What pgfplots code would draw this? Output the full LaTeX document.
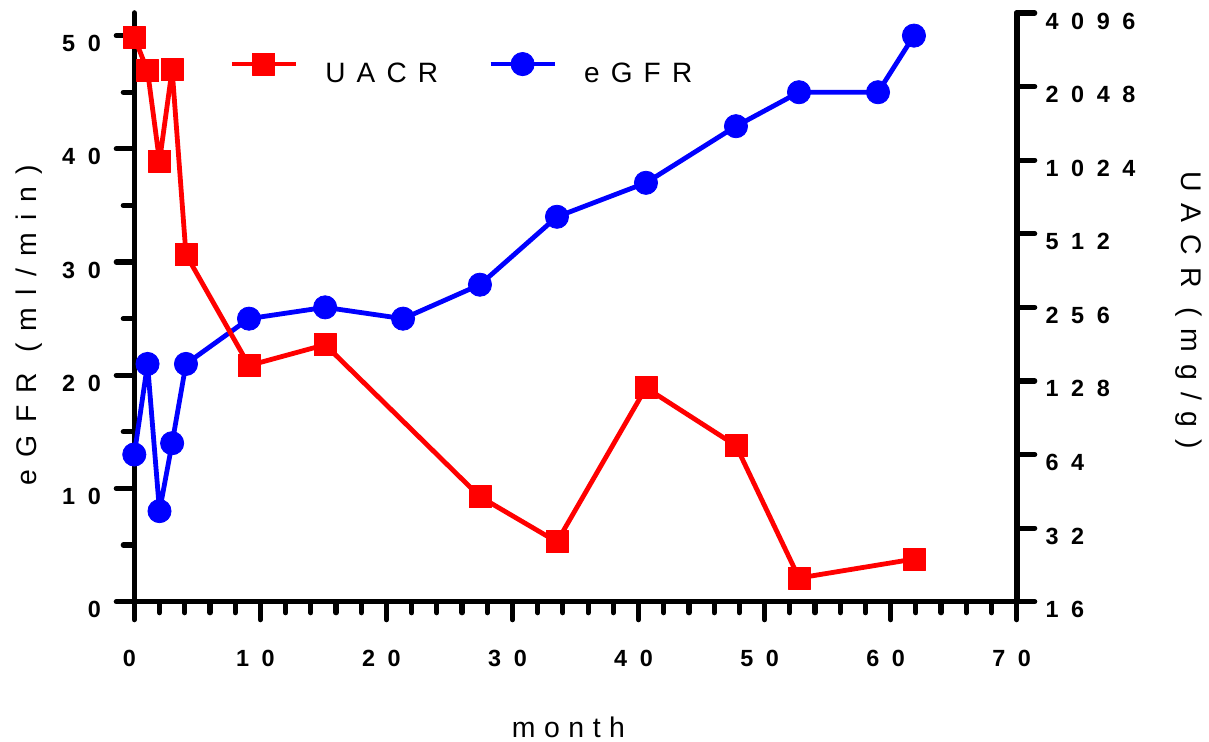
\documentclass[border=0pt]{standalone}
\usepackage{fontspec}
\setmainfont{Liberation Sans}
\newfontfamily\tickfont[LetterSpace=54]{Liberation Sans}
\newfontfamily\labfont[LetterSpace=43]{Liberation Sans}
\newfontfamily\rlabfont[LetterSpace=42]{Liberation Sans}
\newfontfamily\xlabfont[LetterSpace=30]{Liberation Sans}
\newfontfamily\legfont[LetterSpace=40]{Liberation Sans}
\usepackage{pgfplots}
\pgfplotsset{compat=1.18}
\definecolor{ured}{RGB}{255,0,0}
\definecolor{eblue}{RGB}{0,0,255}
\begin{document}
\begin{tikzpicture}
\pgfplotsset{
  common/.style={
    scale only axis, width=441.2pt, height=294.35pt,
    xmin=0, xmax=70,
    clip=false,
    tick align=outside,
    /pgf/number format/assume math mode=true,
    tick label style={font=\tickfont\bfseries\fontsize{11.7}{14}\selectfont, inner sep=0pt},
    axis line style={line width=2.8pt, line cap=round},
    major tick length=9pt, minor tick length=5.5pt,
    tick style={black, line width=2.6pt, line cap=round},
  }
}
\begin{axis}[common,
  axis x line*=bottom, axis y line*=left,
  ymin=0, ymax=52,
  xtick={0,10,...,70}, minor x tick num=4,
  ytick={0,10,...,50}, minor y tick num=1,
  xticklabel style={anchor=north, yshift=-15pt, xshift=-2.5pt},
  yticklabel style={anchor=east, xshift=-7.5pt, yshift=-4pt},
  xlabel={month}, ylabel={eGFR (ml/min)},
  xlabel style={font=\xlabfont\fontsize{14.2}{17}\selectfont, inner sep=0pt, at={(axis description cs:0.5,0)}, anchor=base, yshift=-68.15pt, xshift=-3.5pt},
  ylabel style={font=\labfont\fontsize{14.2}{17}\selectfont, inner sep=0pt, at={(axis description cs:-0.1103,0.470)}, anchor=base},
]
\addplot[eblue, line width=2.4pt, line join=round, mark=*, mark size=5.8pt, mark options={solid, line width=0.4pt}] coordinates {
(0,13) (1.05,21) (2.0,8) (3.0,14) (4.10,21) (9.10,25) (15.14,26) (21.32,25) (27.42,28) (33.53,34) (40.59,37) (47.73,42) (52.73,45) (59.0,45) (61.85,50)
};
\end{axis}
\begin{axis}[common,
  axis x line=none, axis y line*=right,
  ymode=log, log basis y=2, ymin=16, ymax=4096,
  ytick={16,32,64,128,256,512,1024,2048,4096},
  yticklabels={16,32,64,128,256,512,1024,2048,4096},
  yticklabel style={anchor=west, xshift=5.2pt, yshift=-4pt},
  ylabel={UACR (mg/g)},
  ylabel style={font=\rlabfont\fontsize{14.2}{17}\selectfont, inner sep=0pt, at={(axis description cs:1.1862,0.495)}, anchor=base, rotate=180},
  legend style={draw=none, fill=none, at={(axis description cs:0.1074,0.9132)}, anchor=west, inner sep=0pt, nodes={inner sep=0pt}, font=\legfont\fontsize{14}{17}\selectfont, /tikz/every odd column/.append style={column sep=13.5pt}, /tikz/every even column/.append style={column sep=25pt}},
  legend columns=2,
  legend cell align=left,
  legend image code/.code={\draw[mark repeat=2,mark phase=2,#1] plot coordinates {(0pt,1.5pt) (16pt,1.5pt) (32pt,1.5pt)};},
]
\addplot[ured, line width=2.4pt, line join=round, mark=square*, mark size=5.5pt, mark options={solid, line width=0.4pt}] coordinates {
(0,3258) (1.05,2377) (2.0,1014) (3.0,2404) (4.10,421) (9.10,148) (15.14,180) (27.42,43) (33.53,28.1) (40.59,120) (47.73,69.6) (52.73,20.0) (61.85,23.9)
};
\addlegendentry{\raisebox{-7.5pt}{UACR}}
\addlegendimage{eblue, line width=2.4pt, mark=*, mark size=5.8pt, mark options={solid, line width=0.4pt}}
\addlegendentry{\raisebox{-7.5pt}{eGFR}}
\end{axis}
\pgfresetboundingbox
\path[use as bounding box] (-67.15pt,-70.15pt) rectangle (537.35pt,300.85pt);
\end{tikzpicture}
\end{document}
